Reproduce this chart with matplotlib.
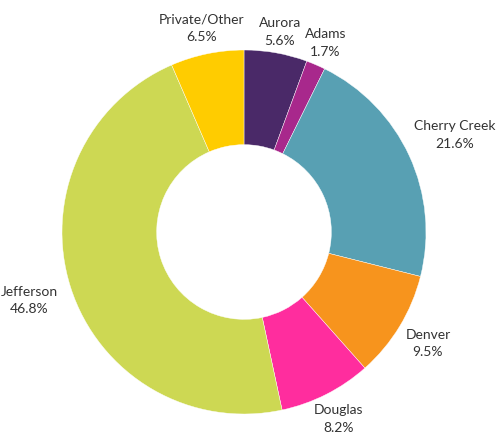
import numpy as np
import matplotlib
matplotlib.use("Agg")
import matplotlib.pyplot as plt

# data
names = ["Aurora", "Adams", "Cherry Creek", "Denver", "Douglas", "Jefferson", "Private/Other"]
shares = [5.6, 1.7, 21.6, 9.5, 8.2, 46.8, 6.5]
colors = ["#4A2968", "#A8288C", "#58A0B3", "#F7941D", "#FF2D9E", "#CDD853", "#FFCC00"]

plt.rcParams['font.family'] = ['Lato', 'DejaVu Sans']

fig = plt.figure(figsize=(4.96, 4.40), dpi=100)
ax = fig.add_axes([0, 0, 1, 1])

wedges, _ = ax.pie(shares, colors=colors, startangle=90, counterclock=False,
                   radius=1.0, wedgeprops=dict(width=0.52, edgecolor="white", linewidth=0.3))

# labels outside each wedge, pushed out a bit more for wide names
for w, name, s in zip(wedges, names, shares):
    ang = np.deg2rad((w.theta1 + w.theta2) / 2)
    r = 1.10 + 0.016 * len(name) * abs(np.cos(ang))
    ax.text(r * np.cos(ang), r * np.sin(ang), f"{name}\n{s}%",
            ha="center", va="center", fontsize=10, color="#333333", linespacing=1.55)

# 1 data unit = 182 px, pie centre at (244, 232) px from top-left
ax.set_xlim(-244 / 182, (496 - 244) / 182)
ax.set_ylim(-(440 - 232) / 182, 232 / 182)
ax.set_aspect("auto")
ax.axis("off")

fig.savefig("out.png", dpi=100)
